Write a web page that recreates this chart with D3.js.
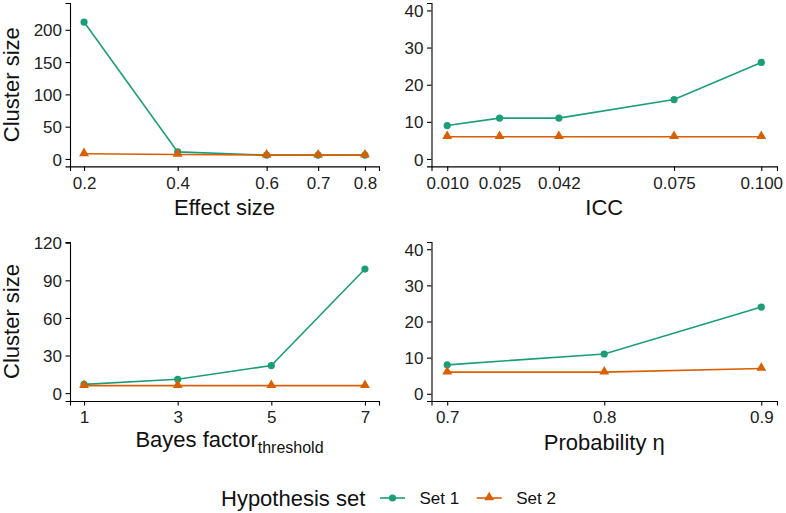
<!DOCTYPE html>
<html>
<head>
<meta charset="utf-8">
<script src="https://cdn.jsdelivr.net/npm/d3@7"></script>
<style>
  body { margin: 0; background: #fff; }
  text { font-family: "Liberation Sans", Arial, sans-serif; fill: #111; }
  .tick text { font-size: 17px; fill: #222; }
  .tick line, .domain { stroke: #000; }
</style>
</head>
<body>
<div id="chart"></div>
<script>
var width = 786,
    height = 513;

// effect size panel
var effectX = [0.2, 0.4, 0.59, 0.7, 0.8];
var effectTicks = ["0.2", "0.4", "0.6", "0.7", "0.8"];
var effectSet1 = [212, 11, 6, 6, 6];
var effectSet2 = [8, 7, 6, 6, 6];
var effectYTicks = [0, 50, 100, 150, 200];

// ICC panel
var iccX = [0.010, 0.025, 0.042, 0.075, 0.100];
var iccTicks = ["0.010", "0.025", "0.042", "0.075", "0.100"];
var iccSet1 = [9, 11, 11, 16, 26];
var iccSet2 = [6, 6, 6, 6, 6];

// Bayes factor panel
var bfX = [1, 3, 5, 7];
var bfTicks = ["1", "3", "5", "7"];
var bfSet1 = [7, 11, 22, 99];
var bfSet2 = [6, 6, 6, 6];
var bfYTicks = [0, 30, 60, 90, 120];

// probability panel
var probX = [0.7, 0.8, 0.9];
var probTicks = ["0.7", "0.8", "0.9"];
var probSet1 = [8, 11, 24];
var probSet2 = [6, 6, 7];

var smallYTicks = [0, 10, 20, 30, 40];
var seriesNames = ["Set 1", "Set 2"];
var colors = ["#1b9e77", "#d95f02"];

var svg = d3.select("#chart")
    .append("svg")
    .attr("width", width)
    .attr("height", height);

var panels = [
  {x: effectX, ticks: effectTicks, s1: effectSet1, s2: effectSet2, yTicks: effectYTicks,
   xDom: [0.17, 0.83], yDom: [-11.5, 241.5], left: 70, right: 379, top: 3, bottom: 166.4,
   title: "Effect size", ylab: true},
  {x: iccX, ticks: iccTicks, s1: iccSet1, s2: iccSet2, yTicks: smallYTicks,
   xDom: [0.0055, 0.1045], yDom: [-2, 42], left: 431.5, right: 777, top: 3, bottom: 166.4,
   title: "ICC", ylab: false},
  {x: bfX, ticks: bfTicks, s1: bfSet1, s2: bfSet2, yTicks: bfYTicks,
   xDom: [0.7, 7.3], yDom: [-6.3, 120.6], left: 70, right: 379, top: 242, bottom: 401,
   title: "bayes", ylab: true},
  {x: probX, ticks: probTicks, s1: probSet1, s2: probSet2, yTicks: smallYTicks,
   xDom: [0.69, 0.91], yDom: [-2, 42], left: 431.5, right: 777, top: 242, bottom: 401,
   title: "Probability η", ylab: false}
];

var tri = d3.symbol().type(d3.symbolTriangle).size(42);

panels.forEach(function(p) {
  var x = d3.scaleLinear().domain(p.xDom).range([p.left, p.right]);
  var y = d3.scaleLinear().domain(p.yDom).range([p.bottom, p.top]);
  var g = svg.append("g");

  var xAxis = g.append("g")
      .attr("transform", "translate(0," + p.bottom + ")")
      .call(d3.axisBottom(x).tickValues(p.x)
        .tickFormat(function(d, i) { return p.ticks[i]; })
        .tickSizeOuter(0).tickSize(4.5).tickPadding(2.5));
  var yAxis = g.append("g")
      .attr("transform", "translate(" + p.left + ",0)")
      .call(d3.axisLeft(y).tickValues(p.yTicks)
        .tickSizeOuter(0).tickSize(4.5).tickPadding(3.5));
  g.selectAll(".domain").attr("stroke-width", 1.1);
  g.selectAll(".tick line").attr("stroke-width", 1.1);
  xAxis.selectAll(".tick text").attr("dy", "0.9em");
  yAxis.selectAll(".tick text").attr("dy", "0.36em");

  var cx = (p.left + p.right) / 2;
  if (p.title === "bayes") {
    var t = g.append("text")
        .attr("x", cx + 5)
        .attr("y", p.bottom + 46)
        .attr("text-anchor", "middle")
        .style("font-size", "22px");
    t.append("tspan").text("Bayes factor");
    t.append("tspan").attr("dy", 6).style("font-size", "16px").text("threshold");
  } else {
    g.append("text")
        .attr("x", cx)
        .attr("y", p.bottom + 48.5)
        .attr("text-anchor", "middle")
        .style("font-size", "22px")
        .text(p.title);
  }
  if (p.ylab) {
    g.append("text")
        .attr("transform", "translate(19," + ((p.top + p.bottom) / 2) + ") rotate(-90)")
        .attr("text-anchor", "middle")
        .style("font-size", "22px")
        .text("Cluster size");
  }

  var line = d3.line()
      .x(function(d, i) { return x(p.x[i]); })
      .y(function(d) { return y(d); });

  [p.s1, p.s2].forEach(function(s, k) {
    g.append("path")
        .datum(s)
        .attr("fill", "none")
        .attr("stroke", colors[k])
        .attr("stroke-width", 1.6)
        .attr("d", line);
  });

  g.selectAll("circle.s1")
      .data(p.s1)
      .enter().append("circle")
      .attr("cx", function(d, i) { return x(p.x[i]); })
      .attr("cy", function(d) { return y(d); })
      .attr("r", 3.6)
      .attr("fill", colors[0]);
  g.selectAll("path.s2")
      .data(p.s2)
      .enter().append("path")
      .attr("class", "s2")
      .attr("d", tri)
      .attr("transform", function(d, i) { return "translate(" + x(p.x[i]) + "," + (y(d) - 0.5) + ")"; })
      .attr("fill", colors[1]);
});

// legend
var legend = svg.append("g").attr("transform", "translate(0,498)");
legend.append("text")
    .attr("x", 221)
    .attr("y", 7.8)
    .style("font-size", "22px")
    .text("Hypothesis set");
var keyX = [380, 476.7];
seriesNames.forEach(function(name, k) {
  legend.append("line")
      .attr("x1", keyX[k]).attr("x2", keyX[k] + 25)
      .attr("y1", 0).attr("y2", 0)
      .attr("stroke", colors[k])
      .attr("stroke-width", 1.6);
  if (k === 0) {
    legend.append("circle")
        .attr("cx", keyX[k] + 12.5).attr("cy", 0).attr("r", 3.6)
        .attr("fill", colors[k]);
  } else {
    legend.append("path")
        .attr("d", tri)
        .attr("transform", "translate(" + (keyX[k] + 12.5) + ",-0.5)")
        .attr("fill", colors[k]);
  }
  legend.append("text")
      .attr("x", keyX[k] + 39.5)
      .attr("y", 6)
      .style("font-size", "17px")
      .text(name);
});
</script>
</body>
</html>
